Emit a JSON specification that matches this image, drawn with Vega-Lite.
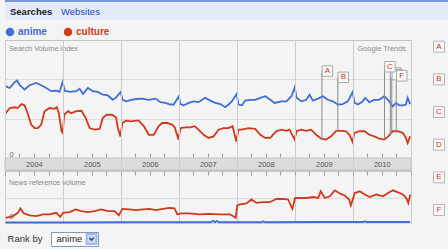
{
"$schema": "https://vega.github.io/schema/vega-lite/v6.json",
"background": "#f4f4f4",
"padding": {"left": 1, "top": 0, "right": 0, "bottom": 0},
"config": {"font": "Liberation Sans", "view": {"stroke": "#c4c4c4"}},
"datasets": {
"tabs": [{"tab": "Searches"}, {"tab": "Websites"}],
"search": [
{"date":"2004-01-06","term":"anime","value":1.82},{"date":"2004-01-31","term":"anime","value":1.78},{"date":"2004-03-02","term":"anime","value":1.93},{"date":"2004-03-16","term":"anime","value":1.97},{"date":"2004-04-02","term":"anime","value":1.86},{"date":"2004-05-03","term":"anime","value":1.74},{"date":"2004-06-04","term":"anime","value":1.85},{"date":"2004-07-16","term":"anime","value":1.91},{"date":"2004-08-16","term":"anime","value":1.85},{"date":"2004-09-17","term":"anime","value":1.78},{"date":"2004-10-18","term":"anime","value":1.70},{"date":"2004-11-19","term":"anime","value":1.71},{"date":"2004-12-09","term":"anime","value":1.68},{"date":"2004-12-29","term":"anime","value":1.93},{"date":"2005-01-11","term":"anime","value":1.71},{"date":"2005-02-11","term":"anime","value":1.68},{"date":"2005-03-25","term":"anime","value":1.70},{"date":"2005-04-15","term":"anime","value":1.76},{"date":"2005-05-06","term":"anime","value":1.63},{"date":"2005-06-06","term":"anime","value":1.78},{"date":"2005-07-07","term":"anime","value":1.70},{"date":"2005-08-08","term":"anime","value":1.68},{"date":"2005-09-08","term":"anime","value":1.61},{"date":"2005-10-10","term":"anime","value":1.59},{"date":"2005-11-10","term":"anime","value":1.48},{"date":"2005-12-01","term":"anime","value":1.54},{"date":"2005-12-30","term":"anime","value":1.68},{"date":"2006-01-10","term":"anime","value":1.48},{"date":"2006-02-02","term":"anime","value":1.44},{"date":"2006-03-06","term":"anime","value":1.48},{"date":"2006-04-06","term":"anime","value":1.50},{"date":"2006-05-14","term":"anime","value":1.51},{"date":"2006-06-24","term":"anime","value":1.48},{"date":"2006-08-06","term":"anime","value":1.51},{"date":"2006-09-06","term":"anime","value":1.42},{"date":"2006-10-07","term":"anime","value":1.40},{"date":"2006-11-08","term":"anime","value":1.36},{"date":"2006-11-28","term":"anime","value":1.36},{"date":"2006-12-31","term":"anime","value":1.57},{"date":"2007-01-10","term":"anime","value":1.37},{"date":"2007-01-31","term":"anime","value":1.34},{"date":"2007-03-03","term":"anime","value":1.40},{"date":"2007-04-03","term":"anime","value":1.44},{"date":"2007-05-04","term":"anime","value":1.42},{"date":"2007-06-15","term":"anime","value":1.53},{"date":"2007-07-17","term":"anime","value":1.46},{"date":"2007-08-17","term":"anime","value":1.40},{"date":"2007-09-18","term":"anime","value":1.37},{"date":"2007-10-19","term":"anime","value":1.29},{"date":"2007-11-09","term":"anime","value":1.36},{"date":"2007-11-30","term":"anime","value":1.44},{"date":"2007-12-30","term":"anime","value":1.63},{"date":"2008-01-10","term":"anime","value":1.36},{"date":"2008-02-01","term":"anime","value":1.34},{"date":"2008-02-22","term":"anime","value":1.46},{"date":"2008-03-25","term":"anime","value":1.48},{"date":"2008-04-25","term":"anime","value":1.48},{"date":"2008-05-27","term":"anime","value":1.53},{"date":"2008-06-27","term":"anime","value":1.57},{"date":"2008-07-29","term":"anime","value":1.48},{"date":"2008-08-25","term":"anime","value":1.40},{"date":"2008-10-07","term":"anime","value":1.44},{"date":"2008-11-08","term":"anime","value":1.44},{"date":"2008-12-09","term":"anime","value":1.57},{"date":"2008-12-30","term":"anime","value":1.80},{"date":"2009-01-10","term":"anime","value":1.53},{"date":"2009-02-10","term":"anime","value":1.44},{"date":"2009-03-12","term":"anime","value":1.48},{"date":"2009-04-02","term":"anime","value":1.61},{"date":"2009-04-23","term":"anime","value":1.46},{"date":"2009-05-25","term":"anime","value":1.51},{"date":"2009-06-25","term":"anime","value":1.57},{"date":"2009-07-26","term":"anime","value":1.48},{"date":"2009-08-27","term":"anime","value":1.44},{"date":"2009-09-27","term":"anime","value":1.36},{"date":"2009-10-28","term":"anime","value":1.37},{"date":"2009-11-29","term":"anime","value":1.44},{"date":"2009-12-30","term":"anime","value":1.68},{"date":"2010-01-10","term":"anime","value":1.40},{"date":"2010-02-01","term":"anime","value":1.36},{"date":"2010-03-03","term":"anime","value":1.44},{"date":"2010-03-18","term":"anime","value":1.53},{"date":"2010-04-14","term":"anime","value":1.42},{"date":"2010-05-15","term":"anime","value":1.48},{"date":"2010-06-15","term":"anime","value":1.48},{"date":"2010-07-17","term":"anime","value":1.57},{"date":"2010-08-17","term":"anime","value":1.44},{"date":"2010-09-08","term":"anime","value":1.31},{"date":"2010-09-29","term":"anime","value":1.40},{"date":"2010-10-19","term":"anime","value":1.34},{"date":"2010-11-10","term":"anime","value":1.34},{"date":"2010-11-30","term":"anime","value":1.36},{"date":"2010-12-11","term":"anime","value":1.53},{"date":"2010-12-27","term":"anime","value":1.37},
{"date":"2004-01-06","term":"culture","value":1.14},{"date":"2004-01-31","term":"culture","value":1.27},{"date":"2004-03-02","term":"culture","value":1.29},{"date":"2004-03-22","term":"culture","value":1.27},{"date":"2004-04-13","term":"culture","value":1.37},{"date":"2004-05-03","term":"culture","value":1.34},{"date":"2004-05-18","term":"culture","value":1.19},{"date":"2004-06-14","term":"culture","value":0.85},{"date":"2004-07-05","term":"culture","value":0.76},{"date":"2004-07-26","term":"culture","value":0.76},{"date":"2004-08-16","term":"culture","value":0.85},{"date":"2004-09-06","term":"culture","value":1.19},{"date":"2004-10-07","term":"culture","value":1.27},{"date":"2004-11-08","term":"culture","value":1.25},{"date":"2004-11-22","term":"culture","value":1.29},{"date":"2004-12-05","term":"culture","value":1.14},{"date":"2004-12-22","term":"culture","value":0.68},{"date":"2004-12-29","term":"culture","value":0.64},{"date":"2005-01-08","term":"culture","value":1.10},{"date":"2005-02-01","term":"culture","value":1.19},{"date":"2005-02-22","term":"culture","value":1.14},{"date":"2005-03-25","term":"culture","value":1.19},{"date":"2005-04-26","term":"culture","value":1.20},{"date":"2005-05-23","term":"culture","value":1.02},{"date":"2005-06-17","term":"culture","value":0.76},{"date":"2005-07-18","term":"culture","value":0.72},{"date":"2005-08-19","term":"culture","value":0.74},{"date":"2005-09-08","term":"culture","value":1.02},{"date":"2005-10-03","term":"culture","value":1.10},{"date":"2005-11-06","term":"culture","value":1.10},{"date":"2005-12-01","term":"culture","value":1.03},{"date":"2005-12-12","term":"culture","value":0.76},{"date":"2005-12-28","term":"culture","value":0.55},{"date":"2006-01-09","term":"culture","value":0.89},{"date":"2006-02-02","term":"culture","value":0.95},{"date":"2006-03-06","term":"culture","value":0.93},{"date":"2006-04-06","term":"culture","value":0.95},{"date":"2006-04-22","term":"culture","value":0.95},{"date":"2006-05-24","term":"culture","value":0.81},{"date":"2006-06-24","term":"culture","value":0.59},{"date":"2006-07-26","term":"culture","value":0.59},{"date":"2006-08-26","term":"culture","value":0.81},{"date":"2006-09-17","term":"culture","value":0.89},{"date":"2006-10-18","term":"culture","value":0.89},{"date":"2006-11-18","term":"culture","value":0.85},{"date":"2006-12-05","term":"culture","value":0.78},{"date":"2006-12-28","term":"culture","value":0.47},{"date":"2007-01-10","term":"culture","value":0.76},{"date":"2007-02-10","term":"culture","value":0.78},{"date":"2007-03-13","term":"culture","value":0.78},{"date":"2007-04-09","term":"culture","value":0.81},{"date":"2007-05-04","term":"culture","value":0.72},{"date":"2007-06-05","term":"culture","value":0.59},{"date":"2007-07-06","term":"culture","value":0.51},{"date":"2007-08-07","term":"culture","value":0.55},{"date":"2007-09-07","term":"culture","value":0.72},{"date":"2007-10-08","term":"culture","value":0.76},{"date":"2007-11-09","term":"culture","value":0.76},{"date":"2007-12-04","term":"culture","value":0.81},{"date":"2007-12-28","term":"culture","value":0.42},{"date":"2008-01-10","term":"culture","value":0.72},{"date":"2008-02-01","term":"culture","value":0.72},{"date":"2008-03-14","term":"culture","value":0.76},{"date":"2008-04-25","term":"culture","value":0.74},{"date":"2008-05-27","term":"culture","value":0.59},{"date":"2008-06-27","term":"culture","value":0.51},{"date":"2008-07-29","term":"culture","value":0.51},{"date":"2008-08-25","term":"culture","value":0.64},{"date":"2008-09-05","term":"culture","value":0.68},{"date":"2008-10-07","term":"culture","value":0.72},{"date":"2008-11-08","term":"culture","value":0.69},{"date":"2008-11-27","term":"culture","value":0.72},{"date":"2008-12-29","term":"culture","value":0.47},{"date":"2009-01-10","term":"culture","value":0.68},{"date":"2009-02-10","term":"culture","value":0.72},{"date":"2009-03-12","term":"culture","value":0.69},{"date":"2009-04-12","term":"culture","value":0.72},{"date":"2009-05-14","term":"culture","value":0.59},{"date":"2009-06-14","term":"culture","value":0.49},{"date":"2009-07-16","term":"culture","value":0.47},{"date":"2009-08-16","term":"culture","value":0.55},{"date":"2009-09-17","term":"culture","value":0.69},{"date":"2009-10-18","term":"culture","value":0.69},{"date":"2009-11-18","term":"culture","value":0.68},{"date":"2009-12-09","term":"culture","value":0.59},{"date":"2009-12-29","term":"culture","value":0.41},{"date":"2010-01-10","term":"culture","value":0.64},{"date":"2010-02-10","term":"culture","value":0.68},{"date":"2010-03-13","term":"culture","value":0.68},{"date":"2010-04-14","term":"culture","value":0.59},{"date":"2010-05-15","term":"culture","value":0.55},{"date":"2010-06-15","term":"culture","value":0.49},{"date":"2010-07-17","term":"culture","value":0.47},{"date":"2010-08-11","term":"culture","value":0.55},{"date":"2010-09-08","term":"culture","value":0.68},{"date":"2010-10-09","term":"culture","value":0.68},{"date":"2010-11-10","term":"culture","value":0.64},{"date":"2010-11-30","term":"culture","value":0.51},{"date":"2010-12-11","term":"culture","value":0.38},{"date":"2010-12-27","term":"culture","value":0.55}
],
"news": [
{"date":"2004-01-06","term":"anime","value":0.02},{"date":"2005-01-01","term":"anime","value":0.02},{"date":"2006-01-01","term":"anime","value":0.03},{"date":"2007-01-01","term":"anime","value":0.03},{"date":"2007-07-20","term":"anime","value":0.03},{"date":"2007-08-05","term":"anime","value":0.09},{"date":"2007-08-15","term":"anime","value":0.03},{"date":"2007-08-28","term":"anime","value":0.08},{"date":"2007-09-10","term":"anime","value":0.03},{"date":"2008-06-05","term":"anime","value":0.03},{"date":"2008-06-15","term":"anime","value":0.07},{"date":"2008-06-25","term":"anime","value":0.03},{"date":"2009-06-01","term":"anime","value":0.04},{"date":"2010-03-05","term":"anime","value":0.04},{"date":"2010-03-15","term":"anime","value":0.07},{"date":"2010-03-25","term":"anime","value":0.04},{"date":"2010-12-27","term":"anime","value":0.04},
{"date":"2004-01-06","term":"culture","value":0.21},{"date":"2004-02-20","term":"culture","value":0.28},{"date":"2004-03-22","term":"culture","value":0.41},{"date":"2004-04-07","term":"culture","value":0.59},{"date":"2004-04-28","term":"culture","value":0.39},{"date":"2004-06-04","term":"culture","value":0.31},{"date":"2004-07-16","term":"culture","value":0.28},{"date":"2004-08-27","term":"culture","value":0.35},{"date":"2004-10-07","term":"culture","value":0.35},{"date":"2004-11-19","term":"culture","value":0.41},{"date":"2004-12-14","term":"culture","value":0.25},{"date":"2005-01-01","term":"culture","value":0.41},{"date":"2005-02-11","term":"culture","value":0.44},{"date":"2005-03-21","term":"culture","value":0.55},{"date":"2005-04-26","term":"culture","value":0.48},{"date":"2005-06-06","term":"culture","value":0.44},{"date":"2005-07-18","term":"culture","value":0.48},{"date":"2005-08-29","term":"culture","value":0.55},{"date":"2005-10-10","term":"culture","value":0.48},{"date":"2005-11-21","term":"culture","value":0.48},{"date":"2005-12-18","term":"culture","value":0.31},{"date":"2006-01-09","term":"culture","value":0.57},{"date":"2006-02-23","term":"culture","value":0.55},{"date":"2006-04-06","term":"culture","value":0.52},{"date":"2006-05-18","term":"culture","value":0.55},{"date":"2006-06-29","term":"culture","value":0.57},{"date":"2006-08-10","term":"culture","value":0.52},{"date":"2006-09-20","term":"culture","value":0.57},{"date":"2006-11-01","term":"culture","value":0.61},{"date":"2006-12-03","term":"culture","value":0.59},{"date":"2006-12-22","term":"culture","value":0.35},{"date":"2007-01-14","term":"culture","value":0.39},{"date":"2007-03-07","term":"culture","value":0.39},{"date":"2007-05-09","term":"culture","value":0.35},{"date":"2007-07-11","term":"culture","value":0.37},{"date":"2007-09-11","term":"culture","value":0.35},{"date":"2007-10-07","term":"culture","value":0.35},{"date":"2007-11-18","term":"culture","value":0.35},{"date":"2007-12-24","term":"culture","value":0.21},{"date":"2008-01-03","term":"culture","value":0.71},{"date":"2008-01-20","term":"culture","value":0.75},{"date":"2008-03-01","term":"culture","value":0.79},{"date":"2008-04-01","term":"culture","value":0.95},{"date":"2008-05-03","term":"culture","value":0.81},{"date":"2008-06-14","term":"culture","value":0.84},{"date":"2008-07-26","term":"culture","value":0.84},{"date":"2008-09-05","term":"culture","value":0.97},{"date":"2008-10-18","term":"culture","value":0.97},{"date":"2008-11-18","term":"culture","value":0.95},{"date":"2008-12-15","term":"culture","value":0.57},{"date":"2009-01-01","term":"culture","value":1.01},{"date":"2009-02-01","term":"culture","value":1.01},{"date":"2009-03-14","term":"culture","value":1.01},{"date":"2009-04-25","term":"culture","value":1.05},{"date":"2009-05-26","term":"culture","value":1.01},{"date":"2009-06-12","term":"culture","value":1.28},{"date":"2009-07-07","term":"culture","value":1.01},{"date":"2009-08-08","term":"culture","value":1.08},{"date":"2009-09-08","term":"culture","value":1.32},{"date":"2009-10-10","term":"culture","value":1.19},{"date":"2009-11-10","term":"culture","value":1.11},{"date":"2009-12-07","term":"culture","value":0.95},{"date":"2009-12-18","term":"culture","value":0.71},{"date":"2010-01-12","term":"culture","value":1.21},{"date":"2010-02-12","term":"culture","value":1.28},{"date":"2010-03-16","term":"culture","value":1.15},{"date":"2010-04-16","term":"culture","value":1.05},{"date":"2010-05-28","term":"culture","value":1.15},{"date":"2010-07-09","term":"culture","value":1.08},{"date":"2010-08-09","term":"culture","value":1.21},{"date":"2010-09-10","term":"culture","value":1.32},{"date":"2010-10-11","term":"culture","value":1.24},{"date":"2010-11-11","term":"culture","value":1.15},{"date":"2010-12-02","term":"culture","value":1.01},{"date":"2010-12-15","term":"culture","value":0.81},{"date":"2010-12-27","term":"culture","value":1.15}
],
"flags": [
{"letter":"A","date":"2009-06-19","level":2.21,"base":0.49},
{"letter":"B","date":"2009-09-27","level":2.05,"base":0.69},
{"letter":"D","date":"2010-08-24","level":2.16,"base":0.57},
{"letter":"E","date":"2010-09-02","level":2.12,"base":0.62},
{"letter":"C","date":"2010-07-18","level":2.32,"base":0.47},
{"letter":"F","date":"2010-09-30","level":2.09,"base":0.68}
],
"letters": [{"letter":"A"},{"letter":"B"},{"letter":"C"},{"letter":"D"},{"letter":"E"},{"letter":"F"}]
},
"spacing": 5,
"vconcat": [
{
"width": 443, "height": 19,
"view": {"fill": "#e4ebf8", "stroke": "#7b98d4", "strokeWidth": 2, "strokeDash": [443, 600]},
"data": {"name": "tabs"},
"layer": [
{"transform": [{"filter": "datum.tab == 'Searches'"}],
 "mark": {"type": "text", "align": "left", "baseline": "middle", "fontWeight": "bold", "fontSize": 9.5, "color": "#222222", "dy": 1},
 "encoding": {"x": {"field": "tab", "type": "nominal", "scale": {"type": "point", "domain": ["Searches", "Websites"], "range": [5, 56], "padding": 0}, "axis": null}, "text": {"field": "tab"}}},
{"transform": [{"filter": "datum.tab == 'Websites'"}],
 "mark": {"type": "text", "align": "left", "baseline": "middle", "fontSize": 9.5, "color": "#2a3fbd", "dy": 1},
 "encoding": {"x": {"field": "tab", "type": "nominal", "scale": {"type": "point", "domain": ["Searches", "Websites"], "range": [5, 56], "padding": 0}, "axis": null}, "text": {"field": "tab"}}}
]
},
{
"spacing": 2,
"vconcat": [
{
"spacing": 16,
"hconcat": [
{
"spacing": -2,
"resolve": {"scale": {"color": "independent", "x": "independent", "y": "independent"}, "legend": {"color": "independent"}},
"vconcat": [
{
"width": 406, "height": 130,
"resolve": {"axis": {"x": "independent"}},
"layer": [
{"data": {"values": [{"part": "band"}]},
 "mark": {"type": "rect", "color": "#dcdcdc", "stroke": "#c4c4c4", "strokeWidth": 1},
 "encoding": {
  "x": {"datum": {"year": 2004, "month": 1, "date": 1, "utc": true}, "type": "temporal",
        "axis": {"orient": "top", "offset": -118, "tickCount": {"interval": "month", "step": 3}, "tickSize": 5, "tickColor": "#a0a0a0", "labels": false, "domain": false, "grid": false, "title": null}},
  "x2": {"datum": {"year": 2011, "month": 1, "date": 1, "utc": true}},
  "y": {"datum": 0, "type": "quantitative"},
  "y2": {"datum": -0.305}}},
{"data": {"name": "search"},
 "mark": {"type": "line", "strokeWidth": 1.8},
 "encoding": {
  "x": {"field": "date", "type": "temporal",
        "scale": {"type": "utc", "domain": [{"year": 2004, "month": 1, "date": 1, "utc": true}, {"year": 2011, "month": 1, "date": 1, "utc": true}], "nice": false},
        "axis": {"title": null, "orient": "bottom", "zindex": 1, "tickCount": {"interval": "month", "step": 3}, "grid": true,
                 "gridColor": {"condition": {"test": "utcmonth(datum.value) == 0", "value": "#cdcdcd"}, "value": "transparent"},
                 "ticks": false, "tickSize": 0, "domain": false,
                 "labelExpr": "utcmonth(datum.value) == 6 ? utcFormat(datum.value, '%Y') : ''",
                 "labelPadding": -6, "labelBaseline": "middle", "labelFontSize": 7.5, "labelColor": "#555555", "labelOverlap": false, "labelFlush": false}},
  "y": {"field": "value", "type": "quantitative", "scale": {"domain": [-0.305, 3], "nice": false, "zero": false},
        "axis": {"title": null, "values": [0, 1, 2], "grid": true, "gridColor": "#dcdcdc", "ticks": false, "domain": false,
                 "labelExpr": "datum.value == 0 ? '0' : ''", "labelAlign": "left", "labelBaseline": "bottom", "labelPadding": -4, "labelFontSize": 7.5, "labelColor": "#666666"}},
  "color": {"field": "term", "type": "nominal", "scale": {"domain": ["anime", "culture"], "range": ["#3d6fd7", "#d2391b"]},
            "legend": {"title": null, "orient": "top", "direction": "horizontal", "symbolType": "circle", "symbolSize": 16, "symbolStrokeWidth": 4.5,
                       "labelFontSize": 10, "labelFontWeight": "bold", "labelColor": {"expr": "datum.label == 'anime' ? '#3d6fd7' : '#d2391b'"},
                       "labelOffset": 3, "columnPadding": 10, "offset": -3, "padding": 0}}}},
{"data": {"name": "flags"},
 "mark": {"type": "rule", "color": "#8a8a8a", "strokeWidth": 1},
 "encoding": {"x": {"field": "date", "type": "temporal", "axis": null}, "y": {"field": "level", "type": "quantitative"}, "y2": {"field": "base"}}},
{"data": {"name": "flags"},
 "mark": {"type": "point", "shape": "square", "size": 110, "filled": true, "fill": "#fbfbfb", "stroke": "#a8a8a8", "strokeWidth": 1, "opacity": 1, "xOffset": 5.5},
 "encoding": {"x": {"field": "date", "type": "temporal", "axis": null}, "y": {"field": "level", "type": "quantitative"}}},
{"data": {"name": "flags"},
 "transform": [{"filter": "datum.letter != 'D' && datum.letter != 'E'"}],
 "mark": {"type": "text", "color": "#cc3322", "fontSize": 8, "dx": 5.5, "baseline": "middle"},
 "encoding": {"x": {"field": "date", "type": "temporal", "axis": null}, "y": {"field": "level", "type": "quantitative"}, "text": {"field": "letter"}}},
{"data": {"values": [{"label": "Search Volume index"}]},
 "mark": {"type": "text", "align": "left", "baseline": "middle", "dx": 4, "dy": 8.5, "fontSize": 7.3, "color": "#8a8a8a"},
 "encoding": {"x": {"datum": {"year": 2004, "month": 1, "date": 1, "utc": true}, "type": "temporal", "axis": null}, "y": {"datum": 3, "type": "quantitative"}, "text": {"field": "label"}}},
{"data": {"values": [{"label": "Google Trends"}]},
 "mark": {"type": "text", "align": "right", "baseline": "middle", "dx": -5, "dy": 8.5, "fontSize": 7.4, "color": "#8a8a8a"},
 "encoding": {"x": {"datum": {"year": 2011, "month": 1, "date": 1, "utc": true}, "type": "temporal", "axis": null}, "y": {"datum": 3, "type": "quantitative"}, "text": {"field": "label"}}}
]
},
{
"width": 406, "height": 52,
"layer": [
{"data": {"name": "news"},
 "mark": {"type": "line", "strokeWidth": 1.8},
 "encoding": {
  "x": {"field": "date", "type": "temporal",
        "scale": {"type": "utc", "domain": [{"year": 2004, "month": 1, "date": 1, "utc": true}, {"year": 2011, "month": 1, "date": 1, "utc": true}], "nice": false},
        "axis": {"title": null, "orient": "top", "tickCount": {"interval": "month", "step": 3}, "grid": true,
                 "gridColor": {"condition": {"test": "utcmonth(datum.value) == 0", "value": "#cdcdcd"}, "value": "transparent"},
                 "labels": false, "ticks": true, "tickSize": -4, "tickColor": "#a0a0a0", "domain": false}},
  "y": {"field": "value", "type": "quantitative", "scale": {"domain": [0, 2.1], "nice": false},
        "axis": {"title": null, "values": [0, 1], "grid": true, "gridColor": "#dcdcdc", "ticks": false, "domain": false,
                 "labelExpr": "datum.value == 0 ? '0' : ''", "labelAlign": "left", "labelBaseline": "bottom", "labelOffset": -3, "labelPadding": -4, "labelFontSize": 7.5, "labelColor": "#666666"}},
  "color": {"field": "term", "type": "nominal", "scale": {"domain": ["anime", "culture"], "range": ["#3d6fd7", "#d2391b"]}, "legend": null}}},
{"data": {"values": [{"label": "News reference volume"}]},
 "mark": {"type": "text", "align": "left", "baseline": "middle", "dx": 4, "dy": 11.5, "fontSize": 7.3, "color": "#8a8a8a"},
 "encoding": {"x": {"datum": {"year": 2004, "month": 1, "date": 1, "utc": true}, "type": "temporal"}, "y": {"datum": 2.1, "type": "quantitative"}, "text": {"field": "label"}}}
]
}
]
},
{
"width": 12, "height": 182,
"view": {"stroke": null},
"data": {"name": "letters"},
"layer": [
{"mark": {"type": "point", "shape": "square", "size": 121, "filled": true, "fill": "#f9f9f9", "stroke": "#b5b5b5", "strokeWidth": 1, "opacity": 1},
 "encoding": {"y": {"field": "letter", "type": "nominal", "scale": {"type": "point", "range": [6.7, 170], "padding": 0}, "axis": null}}},
{"mark": {"type": "text", "color": "#cc3322", "fontSize": 8, "baseline": "middle"},
 "encoding": {"y": {"field": "letter", "type": "nominal", "scale": {"type": "point", "range": [6.7, 170], "padding": 0}, "axis": null}, "text": {"field": "letter"}}}
]
}
]
},
{
"spacing": 5,
"hconcat": [
{"width": 40, "height": 14, "view": {"stroke": null},
 "data": {"values": [{"label": "Rank by"}]},
 "mark": {"type": "text", "fontSize": 9.5, "color": "#333333", "baseline": "middle"},
 "encoding": {"text": {"field": "label"}}},
{"width": 47, "height": 14, "view": {"stroke": "#7f9db9", "fill": "#ffffff"},
 "data": {"values": [{"term": "anime"}]},
 "layer": [
 {"mark": {"type": "text", "align": "left", "baseline": "middle", "dx": -18, "fontSize": 9.5, "color": "#222222"}, "encoding": {"text": {"field": "term"}}},
 {"mark": {"type": "point", "shape": "square", "size": 100, "filled": true, "fill": "#c9d8f5", "stroke": "#a3b9e6", "opacity": 1, "xOffset": 17}, "encoding": {}},
 {"mark": {"type": "point", "shape": "M-1,-0.5L0,0.5L1,-0.5", "size": 18, "filled": false, "stroke": "#304f9a", "strokeWidth": 1.6, "opacity": 1, "xOffset": 17}, "encoding": {}}
 ]}
]
}
]
}
]
}
